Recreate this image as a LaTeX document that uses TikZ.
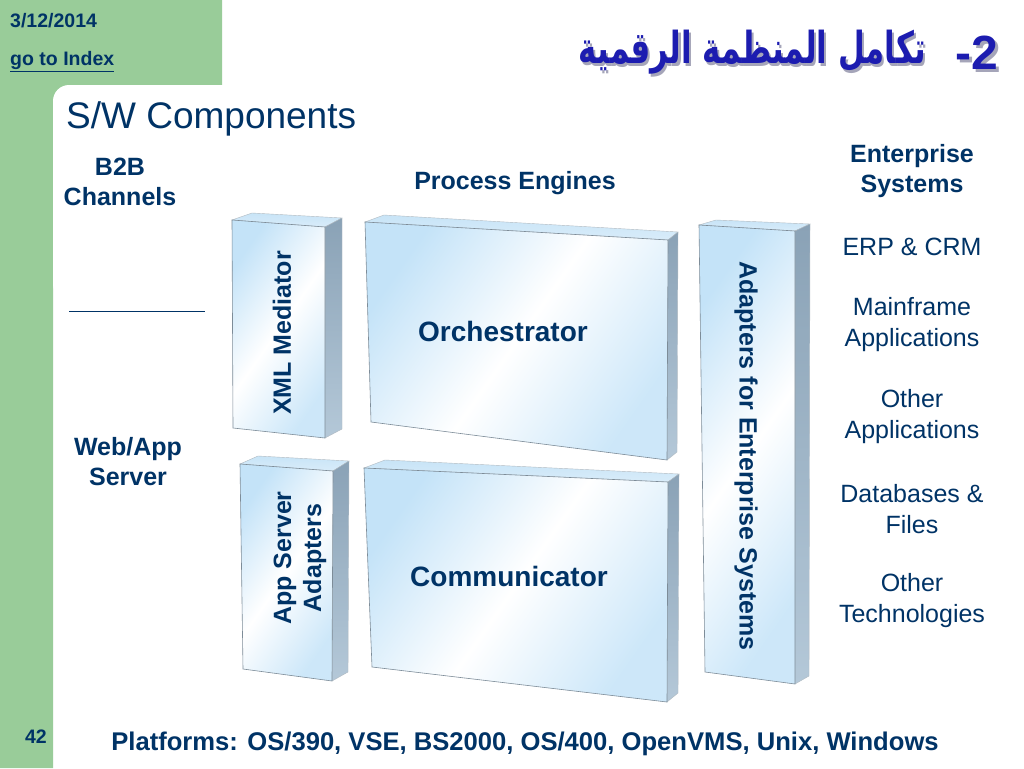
\documentclass[tikz,border=0pt]{standalone}
\usepackage{fontspec}
\setmainfont{Liberation Sans}
\newfontfamily\arabicfont[Script=Arabic]{DejaVu Sans}
\TeXXeTstate=1
\definecolor{navy}{RGB}{0,51,102}
\definecolor{slidegreen}{RGB}{153,204,153}
\definecolor{titleblue}{RGB}{28,28,176}
\definecolor{titleshadow}{RGB}{165,165,185}
\definecolor{faceblue}{RGB}{196,227,248}
\definecolor{topblue}{RGB}{200,228,247}
\definecolor{sidedark}{RGB}{138,162,182}
\definecolor{sidelight}{RGB}{180,200,216}
\definecolor{edgegray}{RGB}{125,140,152}
\newcommand{\solidbox}[7]{%
  % #1 FTL #2 FTR #3 FBR #4 FBL #5 BTL #6 BTR #7 BBR
  \shade[top color=topblue, bottom color=topblue!70!white, draw=edgegray!60, line width=0.4pt] #1 -- #5 -- #6 -- #2 -- cycle;
  \shade[top color=sidedark, bottom color=sidelight, draw=edgegray!60, line width=0.4pt] #2 -- #6 -- #7 -- #3 -- cycle;
  \shade[left color=faceblue, right color=faceblue!85, middle color=white, shading angle=55, draw=edgegray, line width=0.6pt] #1 -- #2 -- #3 -- #4 -- cycle;
}
\newcommand{\shadowed}[1]{\rlap{\kern3pt\raisebox{-3pt}[0pt][0pt]{\color{titleshadow}#1}}#1}
\newcommand{\artitle}{\beginR تكامل المنظمة الرقمية\endR}
\tikzset{
  lbl/.style={text=navy, font=\fontsize{25}{31}\selectfont, align=center, inner sep=0pt},
  blbl/.style={lbl, font=\fontsize{25}{30}\selectfont\bfseries},
  boxlbl/.style={lbl, font=\fontsize{28}{32}\selectfont\bfseries},
  hdr/.style={text=navy, font=\fontsize{19.5}{22}\selectfont\bfseries, inner sep=0pt},
  titlear/.style={text=titleblue, font=\fontsize{44}{48}\selectfont\bfseries\arabicfont, inner sep=0pt, anchor=east, xscale=0.7},
  titlenum/.style={text=titleblue, font=\fontsize{48}{52}\selectfont\bfseries, inner sep=0pt, anchor=east},
}
\begin{document}
\begin{tikzpicture}[x=1pt,y=-1pt]
\useasboundingbox (0,0) rectangle (1024,768);
\fill[white] (0,0) rectangle (1024,768);
% green frame
\fill[slidegreen] (0,0) -- (222,0) -- (222,85) -- (53,85) -- (53,768) -- (0,768) -- cycle;
\fill[slidegreen] (53,85) rectangle (75,107);
\fill[white, rounded corners=16pt] (53,300) -- (53,85) -- (300,85) -- (300,300) -- cycle;

% header texts
\node[hdr, anchor=west] (date) at (10,21) {3/12/2014};
\node[hdr, anchor=west] (index) at (10,62) {\underline{go to Index}};
\node[hdr] (pagenum) at (36,737) {42};
\node[text=navy, font=\fontsize{37}{40}\selectfont, inner sep=0pt, anchor=west] (subtitle) at (66,119) {S/W Components};

% Arabic title with shadow
\node[titlenum] (titlenum) at (998,53) {\shadowed{-2}};
\node[titlear] (titlear) at (926,52) {\shadowed{\artitle}};

% boxes
\solidbox{(232,220)}{(325,227)}{(325,438)}{(233,428)}{(252,213)}{(342,218)}{(342,429)}
\solidbox{(365,222)}{(668,240)}{(667,460)}{(371,422)}{(384,215)}{(678,232)}{(677,452)}
\solidbox{(240,464)}{(333,471)}{(332,681)}{(243,669)}{(258,456)}{(349,461)}{(348,672)}
\solidbox{(364,468)}{(668,482)}{(667,702)}{(372,667)}{(385,460)}{(679,474)}{(678,693)}
\solidbox{(699,225)}{(795,231)}{(795,684)}{(705,672)}{(716,220)}{(810,224)}{(809,676)}

% box labels
\node[boxlbl] (orch) at (503,331) {Orchestrator};
\node[boxlbl] (comm) at (509,576) {Communicator};
\node[blbl, rotate=90] (xml) at (282,333) {XML Mediator};
\node[blbl, rotate=90] (appsrv) at (300,558) {App Server\\Adapters};
\node[blbl, rotate=-90] (adapt) at (746,456) {Adapters for Enterprise Systems};

% left column
\node[blbl] (b2b) at (120,182) {B2B\\Channels};
\coordinate (sepL) at (69,311);
\coordinate (sepR) at (205,311);
\draw[navy, line width=0.8pt] (sepL) -- (sepR);
\node[blbl] (webapp) at (128,462) {Web/App\\Server};

% top label
\node[blbl] (proc) at (515,183) {Process Engines};

% right column
\node[blbl] (ent) at (912,171) {Enterprise\\Systems};
\node[lbl] (erp) at (912,247) {ERP \& CRM};
\node[lbl] (mainf) at (912,325) {Mainframe\\Applications};
\node[lbl] (otherapp) at (912,417) {Other\\Applications};
\node[lbl] (db) at (912,509) {Databases \&\\Files};
\node[lbl] (othertech) at (912,601) {Other\\Technologies};

% platforms
\node[blbl, font=\fontsize{25.6}{30}\selectfont\bfseries] (plat) at (525,744) {Platforms: OS/390, VSE, BS2000, OS/400, OpenVMS, Unix, Windows};
\end{tikzpicture}
\end{document}
